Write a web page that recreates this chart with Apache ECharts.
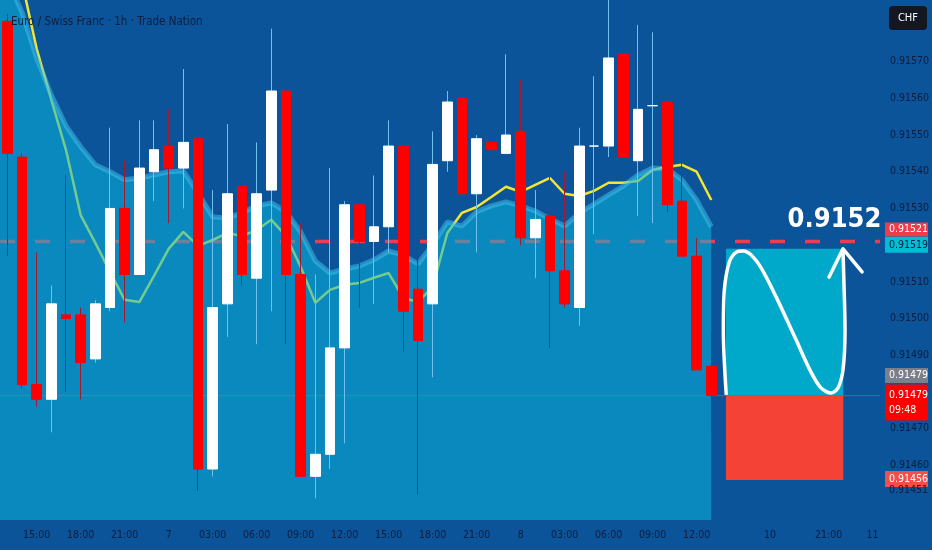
<!DOCTYPE html>
<html lang="en">
<head>
    <meta charset="utf-8">
    <title>Euro / Swiss Franc 1h</title>
    <script src="https://cdn.jsdelivr.net/npm/echarts@6/dist/echarts.min.js"></script>
    <style type="text/css">
        html, body {
            margin: 0;
            padding: 0;
            background: #0b549a;
        }

        #main {
            width: 932px;
            height: 550px;
        }
    </style>
</head>
<body>
<div id="main"></div>
<script type="text/javascript">
    // hourly buckets, 49 real candles + empty future slots
    const timeLabels = ['', '', '15:00', '', '', '18:00', '', '', '21:00', '', '', '7', '', '', '03:00', '', '', '06:00',
        '', '', '09:00', '', '', '12:00', '', '', '15:00', '', '', '18:00', '', '', '21:00', '', '', '8', '', '',
        '03:00', '', '', '06:00', '', '', '09:00', '', '', '12:00', '', '', '', '', '10', '', '', '', '21:00', '', '', '11'];

    // [open, close, low, high]
    const candles = [
        [0.91581, 0.91545, 0.91517, 0.91583],
        [0.91544, 0.91482, 0.91481, 0.91545],
        [0.91482, 0.91478, 0.91476, 0.91518],
        [0.91478, 0.91504, 0.91469, 0.91509],
        [0.91501, 0.91500, 0.91480, 0.91539],
        [0.91501, 0.91488, 0.91478, 0.91503],
        [0.91489, 0.91504, 0.91488, 0.91505],
        [0.91503, 0.91530, 0.91502, 0.91552],
        [0.91530, 0.91512, 0.91499, 0.91543],
        [0.91512, 0.91541, 0.91512, 0.91554],
        [0.91540, 0.91546, 0.91532, 0.91554],
        [0.91547, 0.91541, 0.91526, 0.91557],
        [0.91541, 0.91548, 0.91530, 0.91568],
        [0.91549, 0.91459, 0.91453, 0.91549],
        [0.91459, 0.91503, 0.91457, 0.91535],
        [0.91504, 0.91534, 0.91495, 0.91553],
        [0.91536, 0.91512, 0.91509, 0.91550],
        [0.91511, 0.91534, 0.91493, 0.91548],
        [0.91535, 0.91562, 0.91502, 0.91579],
        [0.91562, 0.91512, 0.91493, 0.91579],
        [0.91512, 0.91457, 0.91457, 0.91526],
        [0.91457, 0.91463, 0.91451, 0.91512],
        [0.91463, 0.91492, 0.91459, 0.91541],
        [0.91492, 0.91531, 0.91466, 0.91532],
        [0.91531, 0.91521, 0.91503, 0.91558],
        [0.91521, 0.91525, 0.91504, 0.91539],
        [0.91525, 0.91547, 0.91518, 0.91554],
        [0.91547, 0.91502, 0.91491, 0.91559],
        [0.91508, 0.91494, 0.91452, 0.91536],
        [0.91504, 0.91542, 0.91484, 0.91551],
        [0.91543, 0.91559, 0.91540, 0.91562],
        [0.91560, 0.91534, 0.91530, 0.91569],
        [0.91534, 0.91549, 0.91518, 0.91550],
        [0.91548, 0.91546, 0.91543, 0.91566],
        [0.91545, 0.91550, 0.91545, 0.91572],
        [0.91551, 0.91522, 0.91520, 0.91565],
        [0.91522, 0.91527, 0.91511, 0.91535],
        [0.91528, 0.91513, 0.91492, 0.91541],
        [0.91513, 0.91504, 0.91503, 0.91540],
        [0.91503, 0.91547, 0.91498, 0.91552],
        [0.91547, 0.91547, 0.91523, 0.91566],
        [0.91547, 0.91571, 0.91544, 0.91587],
        [0.91572, 0.91544, 0.91540, 0.91587],
        [0.91543, 0.91557, 0.91528, 0.91580],
        [0.91558, 0.91558, 0.91526, 0.91578],
        [0.91559, 0.91531, 0.91529, 0.91587],
        [0.91532, 0.91517, 0.91517, 0.91553],
        [0.91517, 0.91486, 0.91486, 0.91522],
        [0.91487, 0.91479, 0.91469, 0.91496]
    ];

    // yellow moving average
    const maLine = [0.915977, 0.915917, 0.915735, 0.915596, 0.915459, 0.915282, 0.915206, 0.915127, 0.915051,
        0.915045, 0.915116, 0.915190, 0.915236, 0.915198, 0.915214, 0.915233, 0.915225, 0.915241, 0.915269,
        0.915225, 0.915141, 0.915043, 0.915078, 0.915092, 0.915097, 0.915111, 0.915124, 0.915056, 0.915045,
        0.915086, 0.915233, 0.915288, 0.915304, 0.915331, 0.915359, 0.915345, 0.915364, 0.915383, 0.915340,
        0.915334, 0.915348, 0.915370, 0.915370, 0.915375, 0.915405, 0.915413, 0.915419, 0.915400, 0.915323];

    // top edge of the light blue cloud (first value is the left border)
    const cloudLeft = 0.915950;
    const cloudTop = [0.915923, 0.915835, 0.915710, 0.915609, 0.915525, 0.915468, 0.915419, 0.915400, 0.915378,
        0.915383, 0.915391, 0.915400, 0.915402, 0.915342, 0.915277, 0.915274, 0.915288, 0.915307, 0.915315,
        0.915291, 0.915236, 0.915157, 0.915124, 0.915135, 0.915143, 0.915160, 0.915184, 0.915173, 0.915149,
        0.915201, 0.915263, 0.915252, 0.915291, 0.915307, 0.915318, 0.915307, 0.915293, 0.915271, 0.915252,
        0.915288, 0.915312, 0.915337, 0.915361, 0.915391, 0.915410, 0.915408, 0.915378, 0.915323, 0.915250];

    // hand drawn projection: [slot, price]
    const waveCurve = [[49.02, 0.914792], [48.82, 0.914969], [48.89, 0.915078], [49.23, 0.915154], [49.71, 0.915181],
        [50.18, 0.915184], [50.72, 0.915173], [51.40, 0.915138], [52.42, 0.915059], [53.78, 0.914942],
        [54.80, 0.914854], [55.48, 0.914811], [56.16, 0.914797], [56.64, 0.914811], [56.98, 0.914860],
        [57.12, 0.914969], [57.05, 0.915091], [56.98, 0.915187]];
    const arrowHead = [[56.03, 0.915113], [56.98, 0.915190], [58.28, 0.915127]];
    const targetText = '0.9152';
    const targetPos = [56.4, 0.915268];

    const targetLevel = 0.91521;
    const lastPrice = 0.91479;
    const zoneTop = 0.91519;
    const zoneStop = 0.91456;
    const zoneSlots = [49, 57];
    const lowMark = 0.91451;
    const countdown = '09:48';

    const yTicks = [0.9146, 0.9147, 0.9149, 0.9150, 0.9151, 0.9153, 0.9154, 0.9155, 0.9156, 0.9157];

    const narrow = "'Liberation Sans Narrow', 'DejaVu Sans Condensed', 'Liberation Sans', sans-serif";
    const inkColor = '#0f1d3c';

    let chart = echarts.init(document.getElementById('main'));

    let bodies = candles.map(function (c) {
        return [c[0], c[1], Math.min(c[0], c[1]), Math.max(c[0], c[1])];
    });
    let cloudPts = [[-0.6, cloudLeft]].concat(cloudTop.map(function (v, i) {
        return [i, v];
    }));
    let lastSlot = timeLabels.length - 0.5;

    chart.setOption({
        backgroundColor: '#0b549a',
        animation: false,
        title: [{
            text: 'Euro / Swiss Franc · 1h · Trade Nation',
            left: 6,
            top: 11,
            textStyle: {color: inkColor, fontSize: 11.5, fontWeight: 'normal', fontFamily: narrow}
        }, {
            text: 'CHF',
            right: 5,
            top: 6,
            backgroundColor: '#131722',
            borderRadius: 4,
            padding: [7, 9, 6, 9],
            textStyle: {color: '#ffffff', fontSize: 11, fontWeight: 'normal', fontFamily: narrow}
        }],
        grid: {left: 0, right: 48, top: 0, bottom: 30},
        xAxis: [{
            type: 'category',
            data: timeLabels,
            boundaryGap: true,
            axisLine: {show: false},
            axisTick: {show: false},
            splitLine: {show: false},
            axisLabel: {interval: 0, color: inkColor, fontSize: 10.5, fontFamily: narrow, margin: 10}
        }, {
            type: 'value',
            min: -0.5,
            max: lastSlot,
            show: false
        }],
        yAxis: {
            type: 'value',
            position: 'right',
            min: 0.914451,
            max: 0.915868,
            axisLine: {show: false},
            axisTick: {show: false},
            splitLine: {show: false},
            axisLabel: {
                customValues: yTicks,
                color: inkColor,
                fontSize: 10.5,
                fontFamily: narrow,
                margin: 10,
                formatter: function (v) {
                    return v.toFixed(5);
                }
            }
        },
        series: [{
            name: 'target level',
            type: 'line',
            xAxisIndex: 1,
            z: 1,
            data: [[-0.5, targetLevel], [lastSlot, targetLevel]],
            symbol: 'none',
            silent: true,
            lineStyle: {color: '#e8404f', width: 3.5, type: [15, 20]}
        }, {
            name: 'last price',
            type: 'line',
            xAxisIndex: 1,
            z: 1,
            data: [[-0.5, lastPrice], [lastSlot, lastPrice]],
            symbol: 'none',
            silent: true,
            lineStyle: {color: 'rgba(240,70,80,0.6)', width: 1}
        }, {
            name: 'MA',
            type: 'line',
            z: 1,
            data: maLine,
            symbol: 'none',
            lineStyle: {color: '#f3e632', width: 2.5}
        }, {
            name: 'cloud',
            type: 'line',
            xAxisIndex: 1,
            z: 2,
            data: cloudPts,
            symbol: 'none',
            lineStyle: {color: 'rgba(70,195,235,0.5)', width: 5},
            areaStyle: {color: 'rgba(10,180,220,0.55)', origin: 'start', opacity: 1}
        }, {
            name: 'zone',
            type: 'line',
            xAxisIndex: 1,
            z: 3,
            data: [],
            markArea: {
                z: 3,
                silent: true,
                data: [
                    [{xAxis: zoneSlots[0], yAxis: zoneTop, itemStyle: {color: '#00a9c9'}},
                        {xAxis: zoneSlots[1], yAxis: lastPrice}],
                    [{xAxis: zoneSlots[0], yAxis: lastPrice, itemStyle: {color: '#f44336'}},
                        {xAxis: zoneSlots[1], yAxis: zoneStop}]
                ]
            }
        }, {
            name: 'wick',
            type: 'candlestick',
            z: 4,
            data: candles,
            barWidth: 1,
            itemStyle: {color: '#6fc0ef', color0: '#a5192e', borderColor: '#6fc0ef', borderColor0: '#a5192e', borderWidth: 1}
        }, {
            name: 'body',
            type: 'candlestick',
            z: 5,
            data: bodies,
            barWidth: 10,
            itemStyle: {color: '#ffffff', color0: '#ff0000', borderColor: '#ffffff', borderColor0: '#ff0000', borderWidth: 1}
        }, {
            name: 'wave',
            type: 'line',
            xAxisIndex: 1,
            z: 6,
            data: waveCurve,
            smooth: 0.3,
            symbol: 'none',
            lineStyle: {color: '#ffffff', width: 3.5}
        }, {
            name: 'arrow',
            type: 'line',
            xAxisIndex: 1,
            z: 6,
            data: arrowHead,
            symbol: 'none',
            lineStyle: {color: '#ffffff', width: 3.5, cap: 'round', join: 'round'}
        }, {
            name: 'target',
            type: 'scatter',
            xAxisIndex: 1,
            z: 6,
            symbolSize: 0,
            data: [targetPos],
            itemStyle: {opacity: 1},
            label: {
                show: true,
                position: 'inside',
                formatter: targetText,
                color: '#ffffff',
                opacity: 1,
                fontSize: 27,
                fontWeight: 'bold',
                fontFamily: narrow
            }
        }]
    });

    // price tags on the right scale, stacked so they do not overlap
    function priceTag(value, shift, h, fill, lines, textColor) {
        let y = chart.convertToPixel({yAxisIndex: 0}, value) + shift;
        let kids = [];
        if (fill) {
            kids.push({type: 'rect', shape: {x: 885, y: y - h / 2, width: 43, height: h}, style: {fill: fill}});
        }
        kids.push({
            type: 'text',
            x: 889,
            y: y,
            style: {
                text: lines.join('\n'),
                fill: textColor,
                font: '10.5px ' + narrow,
                verticalAlign: 'middle',
                lineHeight: 15
            }
        });
        return {type: 'group', z: 20, children: kids};
    }

    chart.setOption({
        graphic: [
            priceTag(targetLevel, -12, 14, '#ef3b4a', [targetLevel.toFixed(5)], '#ffffff'),
            priceTag(zoneTop, -4, 16, '#00bcd4', [zoneTop.toFixed(5)], '#0d1b3a'),
            priceTag(lastPrice, -20, 15, '#7b7f89', [lastPrice.toFixed(5)], '#ffffff'),
            priceTag(lastPrice, 7, 36, '#ff0000', [lastPrice.toFixed(5), countdown], '#ffffff'),
            priceTag(zoneStop, -1, 16, '#f0504a', [zoneStop.toFixed(5)], '#ffffff'),
            priceTag(lowMark, -8, 0, null, [lowMark.toFixed(5)], inkColor)
        ]
    });
</script>
</body>
</html>
